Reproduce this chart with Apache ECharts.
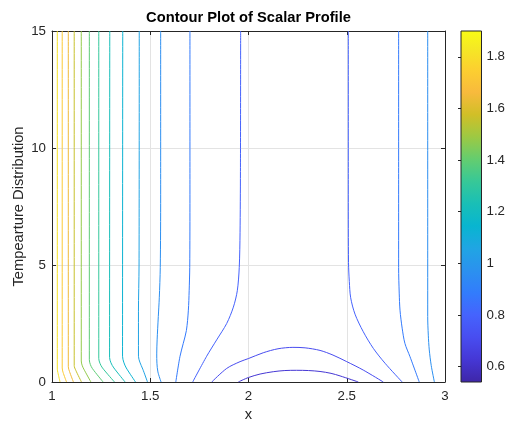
<!DOCTYPE html>
<html>
<head>
<meta charset="utf-8">
<script src="https://cdn.jsdelivr.net/npm/echarts@6/dist/echarts.min.js"></script>
<style>
  html, body { margin: 0; padding: 0; background: #ffffff; }
  #chart { width: 508px; height: 424px; }
</style>
</head>
<body>
<div id="chart"></div>
<script>
// ---- axis ticks ----
const xTicks = [1, 1.5, 2, 2.5, 3];
const yTicks = [0, 5, 10, 15];
const cbarTicks = [0.6, 0.8, 1, 1.2, 1.4, 1.6, 1.8];

// ---- scalar range and contour levels ----
const zMin = 0.54;
const zMax = 1.90;
const levels = [0.625, 0.71, 0.795, 0.88, 0.965, 1.05, 1.135, 1.22, 1.305, 1.39, 1.475, 1.56, 1.645, 1.73, 1.815];

// ---- contour paths, [x, y] ----
const c0625 = [[1.948, 0], [1.999, 0.19], [2.059, 0.34], [2.126, 0.44], [2.185, 0.49], [2.245, 0.50], [2.305, 0.49], [2.364, 0.45], [2.420, 0.37], [2.466, 0.26], [2.559, 0]];
const c0710 = [[1.813, 0], [1.889, 0.58], [1.957, 0.87], [1.999, 1.0], [2.075, 1.25], [2.150, 1.42], [2.226, 1.48], [2.288, 1.46], [2.364, 1.35], [2.430, 1.15], [2.500, 0.87], [2.584, 0.51], [2.686, 0]];
const c0795a = [[1.960, 15], [1.959, 9], [1.957, 6.4], [1.953, 4.9], [1.943, 3.9], [1.923, 3.2], [1.889, 2.5], [1.838, 1.8], [1.787, 1.1], [1.716, 0]];
const c0795b = [[2.508, 15], [2.508, 8], [2.509, 5.1], [2.513, 4.3], [2.520, 3.6], [2.542, 2.9], [2.584, 2.15], [2.635, 1.44], [2.695, 0.8], [2.782, 0]];
const c0880a = [[1.702, 15], [1.702, 8], [1.701, 4.9], [1.698, 3.9], [1.694, 3.07], [1.684, 2.2], [1.668, 1.65], [1.651, 1.08], [1.630, 0]];
const c0880b = [[2.764, 15], [2.764, 8], [2.764, 4.9], [2.767, 3.8], [2.771, 3.07], [2.782, 2.3], [2.796, 1.65], [2.822, 1.08], [2.869, 0]];
const c0965a = [[1.553, 15], [1.553, 8], [1.551, 4.9], [1.546, 3.6], [1.541, 2.8], [1.535, 1.8], [1.533, 1.2], [1.534, 0.8], [1.539, 0.43], [1.555, 0]];
const c0965b = [[2.912, 15], [2.912, 5], [2.912, 2.8], [2.915, 2.0], [2.920, 1.37], [2.930, 0.7], [2.946, 0]];
const c1050 = [[1.444, 15], [1.443, 5], [1.440, 3], [1.440, 1.1], [1.447, 0.85], [1.462, 0.55], [1.486, 0]];
const c1135 = [[1.360, 15], [1.359, 1.1], [1.365, 0.85], [1.378, 0.6], [1.425, 0]];
const c1220 = [[1.294, 15], [1.293, 1.05], [1.300, 0.82], [1.315, 0.6], [1.372, 0]];
const c1305 = [[1.238, 15], [1.238, 1.0], [1.244, 0.8], [1.257, 0.6], [1.318, 0]];
const c1390 = [[1.190, 15], [1.190, 0.95], [1.195, 0.75], [1.206, 0.57], [1.260, 0]];
const c1475 = [[1.149, 15], [1.149, 0.9], [1.153, 0.72], [1.162, 0.55], [1.198, 0]];
const c1560 = [[1.113, 15], [1.113, 0.7], [1.121, 0.5], [1.150, 0]];
const c1645 = [[1.083, 15], [1.083, 0.65], [1.089, 0.45], [1.109, 0]];
const c1730 = [[1.052, 15], [1.052, 0.6], [1.056, 0.42], [1.074, 0]];
const c1815 = [[1.027, 15], [1.027, 0.55], [1.030, 0.40], [1.041, 0]];

const contourLines = [
  { level: levels[0], path: c0625 },
  { level: levels[1], path: c0710 },
  { level: levels[2], path: c0795a },
  { level: levels[2], path: c0795b },
  { level: levels[3], path: c0880a },
  { level: levels[3], path: c0880b },
  { level: levels[4], path: c0965a },
  { level: levels[4], path: c0965b },
  { level: levels[5], path: c1050 },
  { level: levels[6], path: c1135 },
  { level: levels[7], path: c1220 },
  { level: levels[8], path: c1305 },
  { level: levels[9], path: c1390 },
  { level: levels[10], path: c1475 },
  { level: levels[11], path: c1560 },
  { level: levels[12], path: c1645 },
  { level: levels[13], path: c1730 },
  { level: levels[14], path: c1815 }
];

// ---- parula colormap (sampled from the 64-entry table) ----
const parulaIdx = [0, 4, 8, 12, 16, 20, 24, 28, 32, 36, 40, 44, 48, 52, 56, 60, 63];
const parulaHex = ['#3e26a8', '#4537d5', '#484df0', '#4563fd', '#327cfc', '#2b91ef', '#20a5e3', '#08b5d0',
                   '#19bfb6', '#37c897', '#64cd6f', '#9dc943', '#d1bf27', '#f8ba3d', '#fccf30', '#f5e924', '#f9fb15'];

function hexToRgb(h) {
  return [parseInt(h.slice(1, 3), 16), parseInt(h.slice(3, 5), 16), parseInt(h.slice(5, 7), 16)];
}
function parulaAt(v) {
  let t = (v - zMin) / (zMax - zMin);
  t = Math.max(0, Math.min(1, t)) * 63;
  for (let i = 0; i < parulaIdx.length - 1; i++) {
    if (t <= parulaIdx[i + 1]) {
      const f = (t - parulaIdx[i]) / (parulaIdx[i + 1] - parulaIdx[i]);
      const a = hexToRgb(parulaHex[i]), b = hexToRgb(parulaHex[i + 1]);
      const c = a.map((ai, k) => Math.round(ai + (b[k] - ai) * f));
      return 'rgb(' + c.join(',') + ')';
    }
  }
  return parulaHex[parulaHex.length - 1];
}

const ink = '#262626';
const gridGray = '#e3e3e3';
const fontFamily = '"Liberation Sans", Arial, Helvetica, sans-serif';

const chart = echarts.init(document.getElementById('chart'), null, { renderer: 'canvas' });

const lineSeries = contourLines.map(c => ({
  type: 'line',
  xAxisIndex: 0,
  yAxisIndex: 0,
  data: c.path,
  symbol: 'none',
  smooth: 0.3,
  silent: true,
  clip: true,
  z: 3,
  lineStyle: { color: parulaAt(c.level), width: 1 }
}));

// colour bar drawn as one gradient rectangle on its own axis pair
const cbarStops = parulaIdx.map((idx, i) => ({ offset: 1 - idx / 63, color: parulaHex[i] })).reverse();
const cbarSeries = {
  type: 'custom',
  xAxisIndex: 2,
  yAxisIndex: 2,
  silent: true,
  data: [[0, zMin, 1, zMax]],
  encode: { x: [0, 2], y: [1, 3] },
  renderItem: function (params, api) {
    const p0 = api.coord([api.value(0), api.value(3)]);
    const p1 = api.coord([api.value(2), api.value(1)]);
    return {
      type: 'rect',
      shape: { x: p0[0], y: p0[1], width: p1[0] - p0[0], height: p1[1] - p0[1] },
      style: { fill: new echarts.graphic.LinearGradient(0, 0, 0, 1, cbarStops) }
    };
  }
};

const tickLabel = { color: ink, fontSize: 13.3, fontFamily: fontFamily };

const option = {
  animation: false,
  backgroundColor: '#ffffff',
  grid: [
    { left: 52, top: 31, right: 63, bottom: 42, show: false },
    { left: 461, top: 31, width: 21, height: 351, show: true, borderColor: ink, borderWidth: 1, backgroundColor: 'transparent', z: 5 }
  ],
  xAxis: [
    {
      type: 'value', gridIndex: 0, position: 'bottom',
      min: xTicks[0], max: xTicks[xTicks.length - 1], interval: 0.5,
      axisLine: { show: true, onZero: false, lineStyle: { color: ink, width: 1 } },
      axisTick: { show: true, inside: true, length: 4, lineStyle: { color: ink } },
      axisLabel: Object.assign({ margin: 8 }, tickLabel),
      splitLine: { show: true, lineStyle: { color: gridGray, width: 1 } }
    },
    {
      type: 'value', gridIndex: 0, position: 'top',
      min: xTicks[0], max: xTicks[xTicks.length - 1], interval: 0.5,
      axisLine: { show: true, onZero: false, lineStyle: { color: ink, width: 1 } },
      axisTick: { show: true, inside: true, length: 4, lineStyle: { color: ink } },
      axisLabel: { show: false },
      splitLine: { show: false }
    },
    {
      type: 'value', gridIndex: 1, min: 0, max: 1, show: false
    }
  ],
  yAxis: [
    {
      type: 'value', gridIndex: 0, position: 'left',
      min: yTicks[0], max: yTicks[yTicks.length - 1], interval: 5,
      axisLine: { show: true, onZero: false, lineStyle: { color: ink, width: 1 } },
      axisTick: { show: true, inside: true, length: 4, lineStyle: { color: ink } },
      axisLabel: Object.assign({ margin: 6 }, tickLabel),
      splitLine: { show: true, lineStyle: { color: gridGray, width: 1 } }
    },
    {
      type: 'value', gridIndex: 0, position: 'right',
      min: yTicks[0], max: yTicks[yTicks.length - 1], interval: 5,
      axisLine: { show: true, onZero: false, lineStyle: { color: ink, width: 1 } },
      axisTick: { show: true, inside: true, length: 4, lineStyle: { color: ink } },
      axisLabel: { show: false },
      splitLine: { show: false }
    },
    {
      type: 'value', gridIndex: 1, position: 'right',
      min: zMin, max: zMax,
      axisLine: { show: false },
      axisTick: { show: true, inside: true, length: 3, customValues: cbarTicks, lineStyle: { color: ink } },
      axisLabel: Object.assign({ margin: 5, customValues: cbarTicks, formatter: v => String(v) }, tickLabel),
      splitLine: { show: false }
    }
  ],
  graphic: [
    {
      type: 'text', x: 248.5, y: 18, z: 10,
      style: { text: 'Contour Plot of Scalar Profile', fill: '#000000', align: 'center', verticalAlign: 'middle',
               font: 'bold 14.7px ' + fontFamily }
    },
    {
      type: 'text', x: 248.5, y: 415, z: 10,
      style: { text: 'x', fill: ink, align: 'center', verticalAlign: 'middle', font: '14.7px ' + fontFamily }
    },
    {
      type: 'text', x: 19, y: 206.5, rotation: Math.PI / 2, z: 10,
      style: { text: 'Tempearture Distribution', fill: ink, align: 'center', verticalAlign: 'middle', font: '14.7px ' + fontFamily }
    }
  ],
  series: lineSeries.concat([cbarSeries])
};

chart.setOption(option);
</script>
</body>
</html>
